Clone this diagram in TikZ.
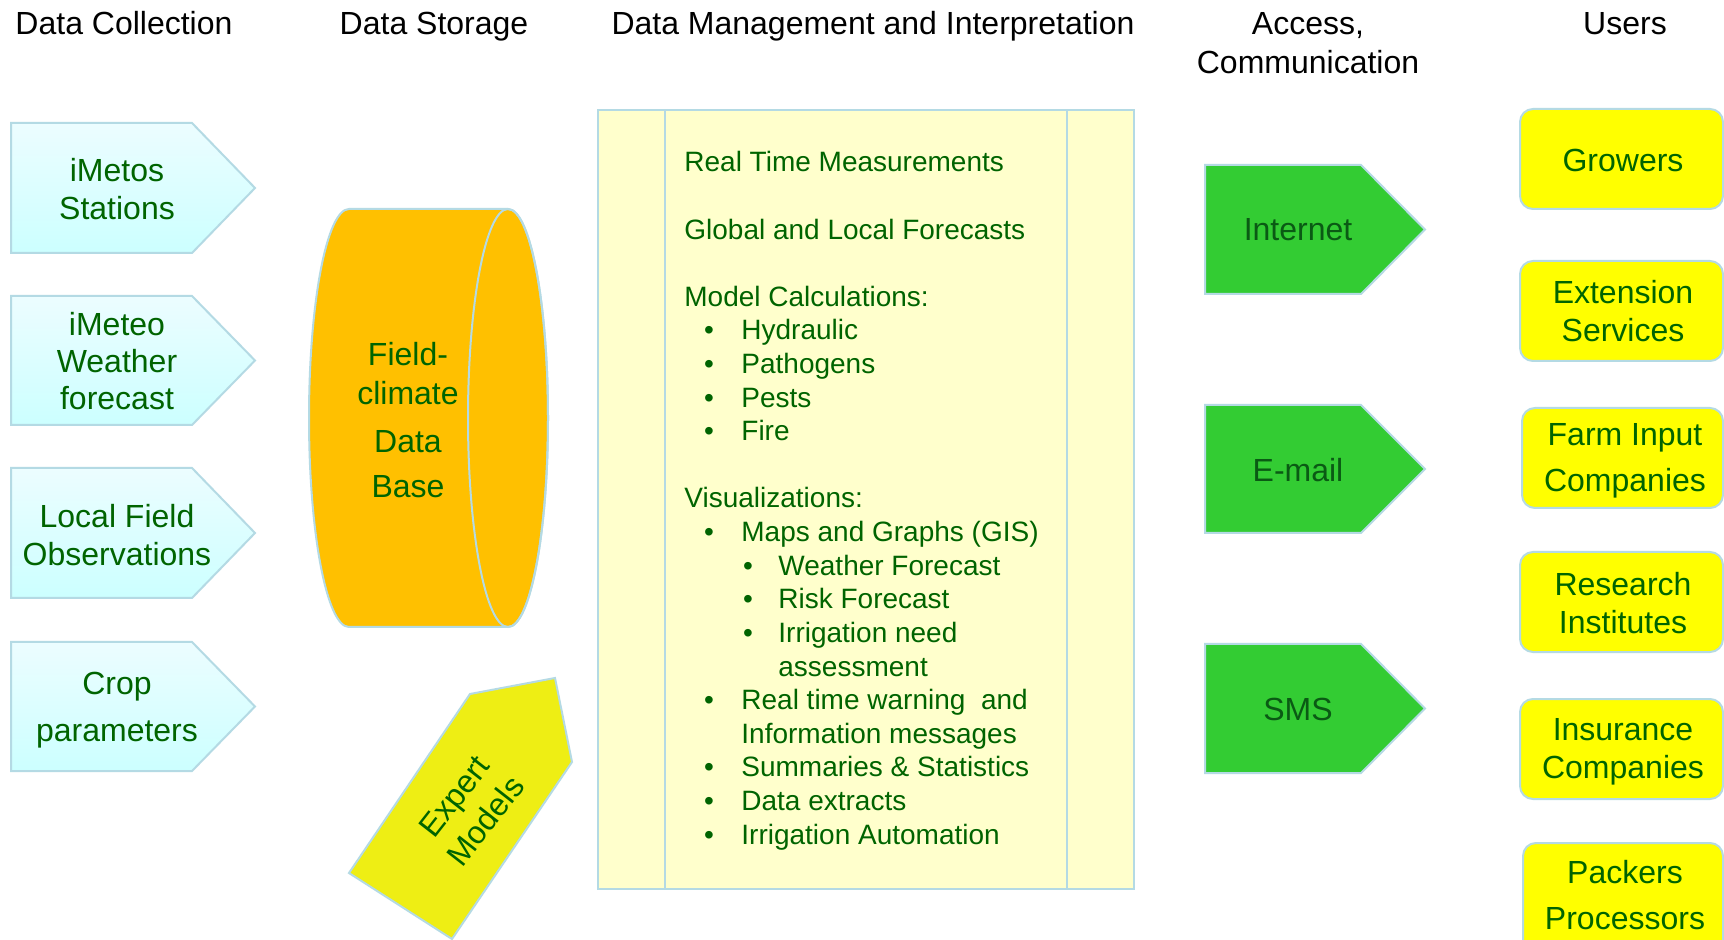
\documentclass[tikz,border=0pt]{standalone}
\usepackage{fontspec}
\setmainfont{Liberation Sans}
\definecolor{txtgreen}{RGB}{0,100,0}
\definecolor{bordc}{RGB}{180,218,228}
\definecolor{cyantop}{RGB}{236,253,255}
\definecolor{cyanbot}{RGB}{204,255,255}
\definecolor{cylorange}{RGB}{255,192,0}
\definecolor{expyellow}{RGB}{238,238,20}
\definecolor{boxyellow}{RGB}{255,255,204}
\definecolor{arrgreen}{RGB}{51,204,51}
\definecolor{arrtext}{RGB}{10,90,20}
\definecolor{useryellow}{RGB}{255,255,0}
\tikzset{
  lbl/.style={font=\fontsize{16}{18.7}\selectfont, text=txtgreen, align=center, inner sep=0pt},
  head/.style={font=\fontsize{16}{19.2}\selectfont, text=black, align=center, inner sep=0pt},
  lst/.style={font=\fontsize{14}{16.8}\selectfont, text=txtgreen, anchor=base west, inner sep=0pt},
  bul/.style={font=\fontsize{14}{16.8}\selectfont, text=txtgreen, anchor=base, inner sep=0pt},
  bdr/.style={draw=bordc, line width=1pt},
  inarrow/.style={bdr, top color=cyantop, bottom color=cyanbot},
  outarrow/.style={bdr, fill=arrgreen},
  userbox/.style={bdr, fill=useryellow, rounded corners=6.5pt},
}
\begin{document}
\begin{tikzpicture}[x=0.5pt,y=-0.5pt]
\useasboundingbox (0,0) rectangle (1724,940);
\clip (0,0) rectangle (1724,940);
\fill[white] (0,0) rectangle (1724,940);

% headings
\node[head, anchor=base] (h1) at (124,35) {Data Collection};
\node[head, anchor=base] (h2) at (434,35) {Data Storage};
\node[head, anchor=base] (h3) at (873,35) {Data Management and Interpretation};
\node[head] (h4) at (1308,43) {Access,\\Communication};
\node[head, anchor=base] (h5) at (1625,35) {Users};

% input arrows
\foreach \t/\b in {123/253, 296/425, 468/598, 642/771}{
  \path[inarrow] (11,\t) -- (192,\t) -- (255,{(\t+\b)/2}) -- (192,\b) -- (11,\b) -- cycle;
}
\node[lbl] (a1) at (117,189) {iMetos\\Stations};
\node[lbl] (a2) at (117,361) {iMeteo\\Weather\\forecast};
\node[lbl] (a3) at (117,535) {Local Field\\Observations};
\node[lbl] (a4) at (117,710) {Crop\\[5pt]parameters};

% cylinder
\path[bdr, fill=cylorange] (349,209) -- (508,209) arc[start angle=-90, end angle=90, x radius=40, y radius=209]
  -- (349,627) arc[start angle=90, end angle=270, x radius=40, y radius=209] -- cycle;
\draw[bdr] (508,418) ellipse[x radius=40, y radius=209];
\node[lbl] (db) at (408,420) {Field-\\[1pt]climate\\[5pt]Data\\[4pt]Base};

% expert models
\path[bdr, fill=expyellow] (349,873) -- (470,694) -- (555,678) -- (572,762) -- (452,939) -- cycle;
\node[lbl, rotate=52, font=\fontsize{16}{20}\selectfont] (em) at (470,809) {Expert\\Models};

% center box
\path[bdr, fill=boxyellow] (598,110) rectangle (1134,889);
\draw[bdr] (665,110) -- (665,889);
\draw[bdr] (1067,110) -- (1067,889);
\def\ly#1{172+33.6*#1}
\node[lst] (l0) at (684,{\ly{0}}) {Real Time Measurements};
\node[lst] (l2) at (684,{\ly{2}}) {Global and Local Forecasts};
\node[lst] (l4) at (684,{\ly{4}}) {Model Calculations:};
\node[lst] (l10) at (684,{\ly{10}}) {Visualizations:};
\foreach \i/\txt in {5/Hydraulic, 6/Pathogens, 7/Pests, 8/Fire, 11/Maps and Graphs (GIS), 16/Real time warning\ \ and, 18/Summaries \& Statistics, 19/Data extracts, 20/Irrigation Automation}{
  \node[bul] (b\i) at (709,{\ly{\i}}) {•};
  \node[lst] (l\i) at (741,{\ly{\i}}) {\txt};
}
\node[lst] (l17) at (741,{\ly{17}}) {Information messages};
\foreach \i/\txt in {12/Weather Forecast, 13/Risk Forecast, 14/Irrigation need}{
  \node[bul] (b\i) at (748,{\ly{\i}}) {•};
  \node[lst] (l\i) at (778,{\ly{\i}}) {\txt};
}
\node[lst] (l15) at (778,{\ly{15}}) {assessment};

% output arrows
\foreach \t/\b in {165/294, 405/533, 644/773}{
  \path[outarrow] (1205,\t) -- (1361,\t) -- (1425,{(\t+\b)/2}) -- (1361,\b) -- (1205,\b) -- cycle;
}
\node[lbl, text=arrtext] (o1) at (1298,230) {Internet};
\node[lbl, text=arrtext] (o2) at (1298,470) {E-mail};
\node[lbl, text=arrtext] (o3) at (1298,709) {SMS};

% users
\path[userbox] (1520,109) rectangle (1723,209);
\path[userbox] (1520,261) rectangle (1723,361);
\path[userbox] (1522,408) rectangle (1723,508);
\path[userbox] (1520,552) rectangle (1723,652);
\path[userbox] (1520,699) rectangle (1723,799);
\path[userbox] (1523,843) rectangle (1723,960);
\node[lbl] (u1) at (1623,160) {Growers};
\node[lbl] (u2) at (1623,311) {Extension\\Services};
\node[lbl] (u3) at (1625,461) {Farm Input\\[4pt]Companies};
\node[lbl] (u4) at (1623,603) {Research\\Institutes};
\node[lbl] (u5) at (1623,752) {Insurance\\Companies};
\node[lbl] (u6) at (1625,895) {Packers\\[4pt]Processors};
\end{tikzpicture}
\end{document}
